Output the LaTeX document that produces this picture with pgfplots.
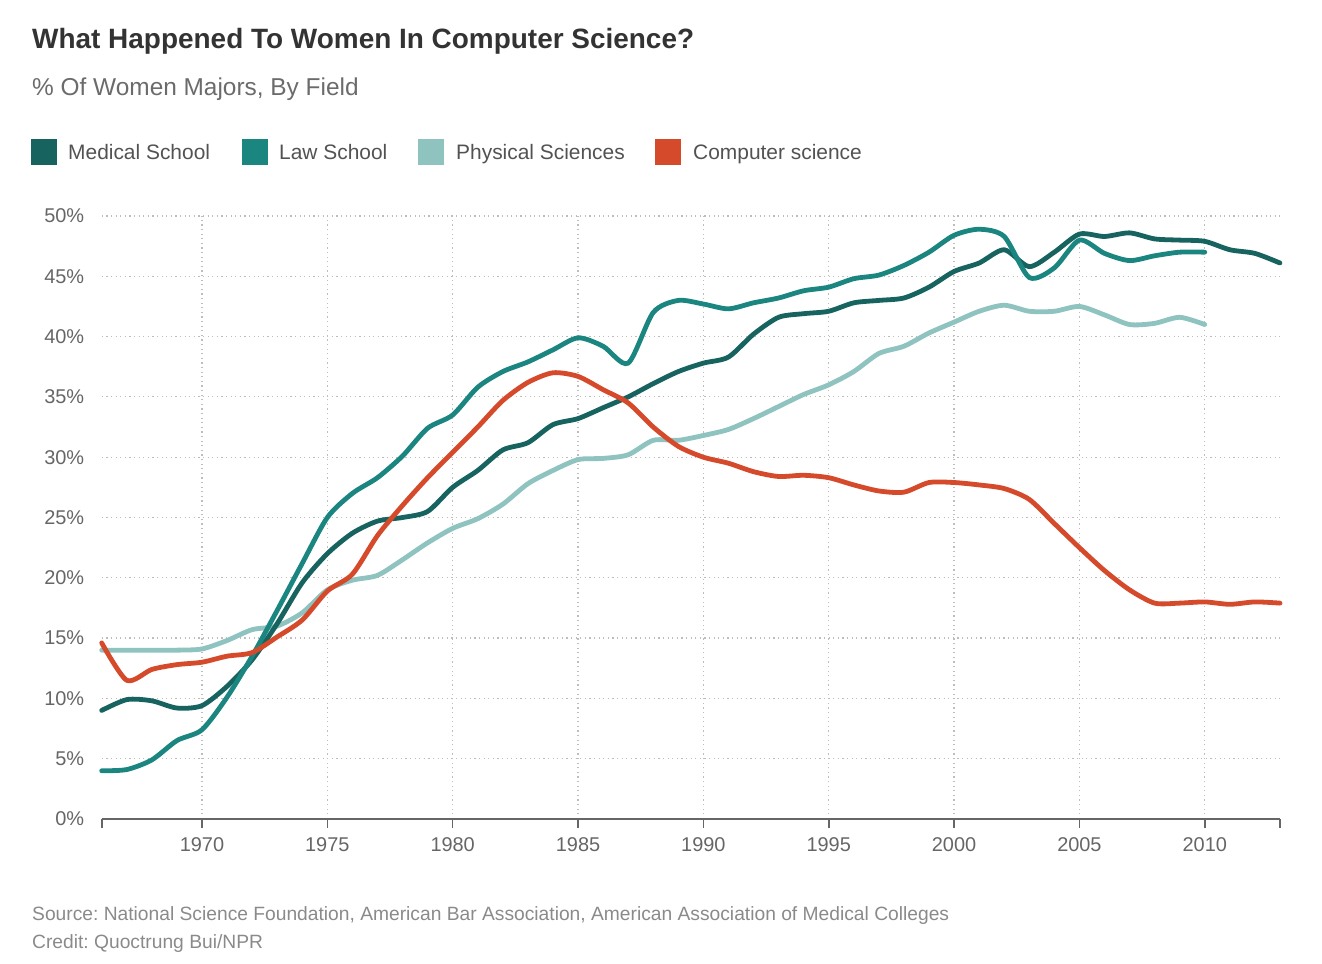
\documentclass[border=0pt]{standalone}
\usepackage{pgfplots}
\pgfplotsset{compat=1.18}
\usepackage{fontspec}
\setmainfont{Liberation Sans}
\frenchspacing
\definecolor{cmed}{HTML}{17635F}
\definecolor{claw}{HTML}{1B8580}
\definecolor{cphy}{HTML}{8FC3BF}
\definecolor{ccs}{HTML}{D64A2C}
\definecolor{ctitle}{HTML}{333333}
\definecolor{csub}{HTML}{6B6B6B}
\definecolor{ctick}{HTML}{666666}
\definecolor{csrc}{HTML}{8A8A8A}
\definecolor{cgrid}{HTML}{BDBDBD}
\begin{document}
\begin{tikzpicture}[x=1bp,y=1bp]
\path (0,0) rectangle (1322,963);
% titles
\node[anchor=base west, inner sep=0, text=ctitle] at (32,914) {\fontsize{28.05}{32}\selectfont\bfseries What Happened To Women In Computer Science?};
\node[anchor=base west, inner sep=0, text=csub] at (32,867) {\fontsize{24.5}{28}\selectfont \% Of Women Majors, By Field};
% legend
\fill[cmed] (31,798) rectangle (57,824);
\node[anchor=base west, inner sep=0, text=ctitle!85] at (68,803) {\fontsize{21}{24}\selectfont Medical School};
\fill[claw] (242,798) rectangle (268,824);
\node[anchor=base west, inner sep=0, text=ctitle!85] at (279,803) {\fontsize{21}{24}\selectfont Law School};
\fill[cphy] (418,798) rectangle (444,824);
\node[anchor=base west, inner sep=0, text=ctitle!85] at (456,803) {\fontsize{21}{24}\selectfont Physical Sciences};
\fill[ccs] (655,798) rectangle (681,824);
\node[anchor=base west, inner sep=0, text=ctitle!85] at (693,803) {\fontsize{21}{24}\selectfont Computer science};
% source
\node[anchor=base west, inner sep=0, text=csrc] at (32,43) {\fontsize{19.3}{22}\selectfont Source: National Science Foundation, American Bar Association, American Association of Medical Colleges};
\node[anchor=base west, inner sep=0, text=csrc] at (32,15) {\fontsize{19.3}{22}\selectfont Credit: Quoctrung Bui/NPR};
\begin{axis}[
  at={(101.7bp,144bp)}, anchor=south west,
  scale only axis, width=1178.3bp, height=603bp,
  xmin=1966, xmax=2013, ymin=0, ymax=50,
  axis x line*=bottom, axis y line*=left,
  y axis line style={draw=none},
  x axis line style={draw=ctick, line width=1.6bp},
  xtick={1970,1975,...,2010},
  extra x ticks={1966,2013}, extra x tick labels={},
  extra x tick style={grid=none},
  ytick={0,5,...,50},
  tick align=outside,
  major tick length=9bp,
  xtick style={draw=ctick, line width=1.6bp},
  ytick style={draw=none},
  grid=major,
  major grid style={draw=cgrid, line width=1.2bp, dash pattern=on 1.2bp off 3.4bp},
  /pgf/number format/assume math mode=true,
  /pgf/number format/set thousands separator={},
  xticklabel style={font=\fontsize{20}{24}\selectfont, text=ctick, anchor=base, yshift=-23bp},
  yticklabel style={font=\fontsize{20}{24}\selectfont, text=ctick, anchor=east, xshift=-5bp},
  yticklabel={\pgfmathprintnumber{\tick}\%},
  clip=false,
  every axis plot/.append style={line width=4.8bp, line cap=round, line join=round, smooth, tension=0.45},
]
% Physical Sciences
\addplot[cphy] coordinates {
(1966,14.0)(1967,14.0)(1968,14.0)(1969,14.0)(1970,14.1)(1971,14.8)(1972,15.7)(1973,16.0)(1974,17.1)(1975,19.0)
(1976,19.8)(1977,20.2)(1978,21.5)(1979,22.9)(1980,24.1)(1981,24.9)(1982,26.1)(1983,27.8)(1984,28.9)(1985,29.8)
(1986,29.9)(1987,30.2)(1988,31.4)(1989,31.4)(1990,31.8)(1991,32.3)(1992,33.2)(1993,34.2)(1994,35.2)(1995,36.0)
(1996,37.1)(1997,38.6)(1998,39.2)(1999,40.3)(2000,41.2)(2001,42.1)(2002,42.6)(2003,42.1)(2004,42.1)(2005,42.5)
(2006,41.8)(2007,41.0)(2008,41.1)(2009,41.6)(2010,41.0)
};
% Medical School
\addplot[cmed] coordinates {
(1966,9.0)(1967,9.9)(1968,9.8)(1969,9.2)(1970,9.4)(1971,11.0)(1972,13.2)(1973,16.2)(1974,19.6)(1975,22.0)
(1976,23.7)(1977,24.7)(1978,25.0)(1979,25.5)(1980,27.5)(1981,28.9)(1982,30.6)(1983,31.2)(1984,32.7)(1985,33.2)
(1986,34.1)(1987,35.0)(1988,36.1)(1989,37.1)(1990,37.8)(1991,38.3)(1992,40.2)(1993,41.6)(1994,41.9)(1995,42.1)
(1996,42.8)(1997,43.0)(1998,43.2)(1999,44.1)(2000,45.4)(2001,46.1)(2002,47.2)(2003,45.8)(2004,47.0)(2005,48.5)
(2006,48.3)(2007,48.6)(2008,48.1)(2009,48.0)(2010,47.9)(2011,47.2)(2012,46.9)(2013,46.1)
};
% Law School
\addplot[claw] coordinates {
(1966,4.0)(1967,4.1)(1968,4.9)(1969,6.5)(1970,7.4)(1971,10.1)(1972,13.5)(1973,17.3)(1974,21.2)(1975,25.0)
(1976,27.0)(1977,28.3)(1978,30.1)(1979,32.4)(1980,33.5)(1981,35.8)(1982,37.1)(1983,37.9)(1984,38.9)(1985,39.9)
(1986,39.2)(1987,37.8)(1988,42.0)(1989,43.0)(1990,42.7)(1991,42.3)(1992,42.8)(1993,43.2)(1994,43.8)(1995,44.1)
(1996,44.8)(1997,45.1)(1998,45.9)(1999,47.0)(2000,48.4)(2001,48.9)(2002,48.3)(2003,44.9)(2004,45.7)(2005,48.0)
(2006,46.9)(2007,46.3)(2008,46.7)(2009,47.0)(2010,47.0)
};
% Computer science
\addplot[ccs] coordinates {
(1966,14.6)(1967,11.5)(1968,12.4)(1969,12.8)(1970,13.0)(1971,13.5)(1972,13.8)(1973,15.1)(1974,16.5)(1975,18.9)
(1976,20.3)(1977,23.5)(1978,26.0)(1979,28.3)(1980,30.4)(1981,32.5)(1982,34.7)(1983,36.2)(1984,37.0)(1985,36.7)
(1986,35.6)(1987,34.5)(1988,32.5)(1989,30.9)(1990,30.0)(1991,29.5)(1992,28.8)(1993,28.4)(1994,28.5)(1995,28.3)
(1996,27.7)(1997,27.2)(1998,27.1)(1999,27.9)(2000,27.9)(2001,27.7)(2002,27.4)(2003,26.5)(2004,24.5)(2005,22.5)
(2006,20.6)(2007,19.0)(2008,17.9)(2009,17.9)(2010,18.0)(2011,17.8)(2012,18.0)(2013,17.9)
};
\end{axis}
\end{tikzpicture}
\end{document}
